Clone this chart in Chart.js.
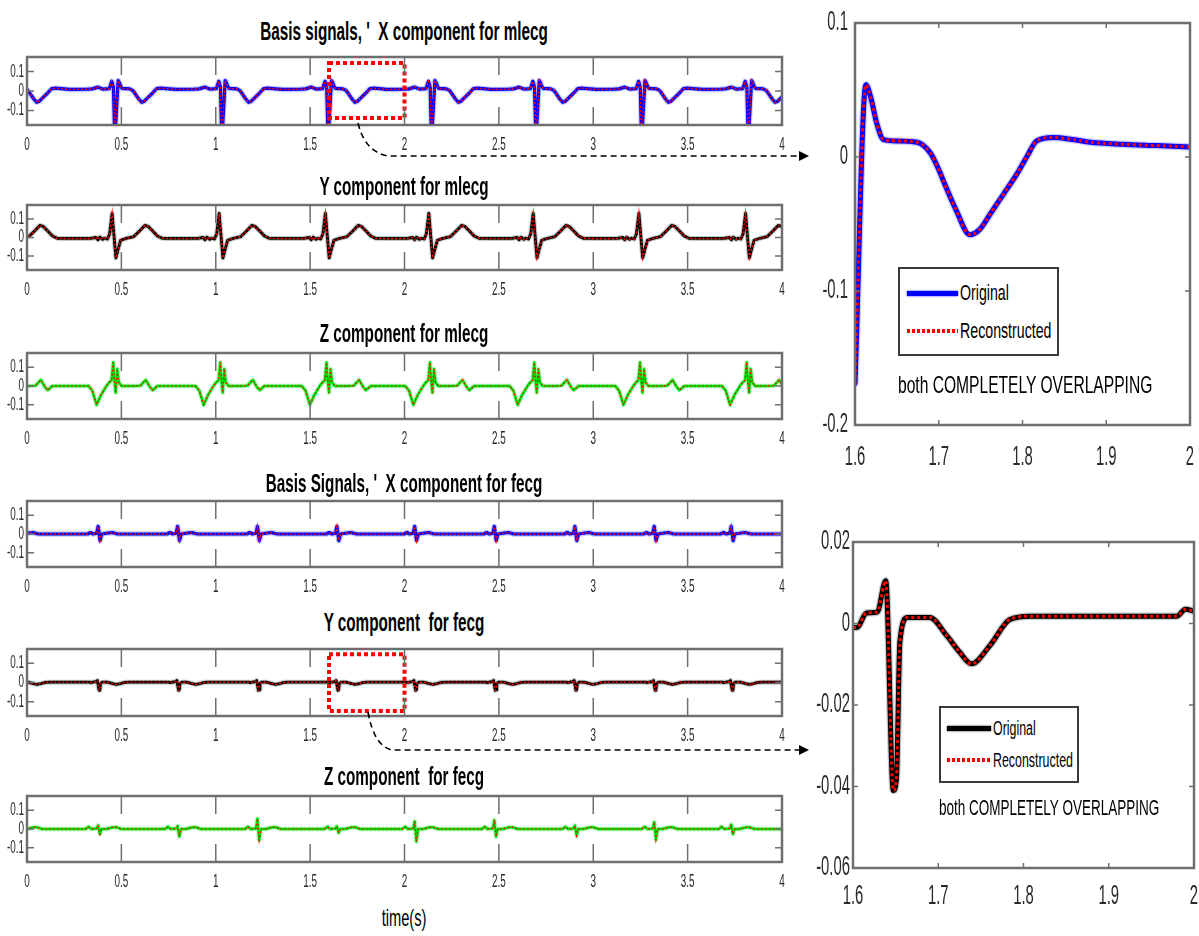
<!DOCTYPE html>
<html>
<head>
<meta charset="utf-8">
<script src="https://cdn.jsdelivr.net/npm/chart.js@4.4.1/dist/chart.umd.min.js"></script>
<style>
  body { margin:0; background:#fff; width:1199px; height:936px; overflow:hidden; position:relative; font-family:"Liberation Sans", Arial, sans-serif; }
  canvas { position:absolute; }
  .txt { position:absolute; white-space:pre; line-height:1; color:#000; transform-origin:50% 50%; }
  .lg { position:absolute; border:2px solid #3a3a3a; background:#fff; box-sizing:border-box; }
  .smp { position:absolute; }
</style>
</head>
<body>
<script>
// ---------- ticks ----------
const xTicksMain  = [0, 0.5, 1, 1.5, 2, 2.5, 3, 3.5, 4];
const xLabelsMain = ['0', '0.5', '1', '1.5', '2', '2.5', '3', '3.5', '4'];
const yTicksMain  = [-0.1, 0, 0.1];
const yLabelsMain = ['-0.1', '0', '0.1'];
const xTicksZoom  = [1.6, 1.7, 1.8, 1.9, 2];
const xLabelsZoom = ['1.6', '1.7', '1.8', '1.9', '2'];
const yTicksZoomM  = [-0.2, -0.1, 0, 0.1];
const yLabelsZoomM = ['-0.2', '-0.1', '0', '0.1'];
const yTicksZoomF  = [-0.06, -0.04, -0.02, 0, 0.02];
const yLabelsZoomF = ['-0.06', '-0.04', '-0.02', '0', '0.02'];

// ---------- beat times (s) ----------
const mBeats = [-0.09, 0.466, 1.033, 1.596, 2.144, 2.697, 3.257, 3.822, 4.38];
const fBeats = [-0.04, 0.381, 0.802, 1.225, 1.646, 2.058, 2.48, 2.907, 3.327, 3.735, 4.15];

// ---------- beat shapes (offset from beat, value) ----------
// X component mlecg
const mxOff = [-0.24, -0.15, -0.12, -0.09, -0.065, -0.03, -0.017, -0.008, -0.001, 0.004, 0.017, 0.023, 0.03, 0.038, 0.06, 0.078, 0.094, 0.103, 0.113, 0.125, 0.141, 0.153, 0.165, 0.181, 0.197, 0.209, 0.221, 0.241, 0.285];
const mxVal = [0.008, 0.009, 0.011, 0.02, 0.01, 0.012, 0.05, 0.02, -0.24, -0.169, 0.054, 0.044, 0.025, 0.013, 0.012, 0.011, 0.003, -0.008, -0.023, -0.04, -0.058, -0.054, -0.043, -0.028, -0.013, 0.0, 0.012, 0.0145, 0.011];
// Y component mlecg
const myOff = [-0.24, -0.13, -0.1, -0.09, -0.08, -0.065, -0.055, -0.04, -0.028, -0.015, -0.006, 0.005, 0.015, 0.03, 0.06, 0.1, 0.13, 0.158, 0.175, 0.2, 0.225, 0.25, 0.285];
const myVal = [-0.005, -0.005, 0.0, -0.012, 0.002, -0.01, -0.004, -0.008, 0.02, 0.13, 0.02, -0.11, -0.07, -0.015, -0.005, 0.005, 0.035, 0.065, 0.06, 0.035, 0.008, -0.004, -0.005];
// Z component mlecg
const mzOff = [-0.24, -0.14, -0.12, -0.097, -0.075, -0.045, -0.03, -0.018, -0.009, -0.003, 0.004, 0.012, 0.02, 0.035, 0.1, 0.135, 0.163, 0.185, 0.2, 0.225, 0.285];
const mzVal = [0.0, 0.0, -0.025, -0.1, -0.05, 0.0, 0.02, 0.03, 0.125, 0.03, -0.035, 0.09, 0.02, 0.0, 0.0, 0.002, 0.032, -0.005, -0.022, 0.0, 0.0];
// X component fecg
const fxOff = [-0.2, -0.06, -0.045, -0.03, -0.012, -0.004, 0.006, 0.015, 0.04, 0.07, 0.1, 0.2];
const fxVal = [0.0, 0.0, 0.008, 0.0, 0.004, 0.04, -0.035, 0.0, 0.004, 0.008, 0.0, 0.0];
// Y component fecg
const fyOff = [-0.2, -0.05, -0.042, -0.03, -0.018, -0.008, 0.001, 0.005, 0.009, 0.018, 0.044, 0.064, 0.079, 0.093, 0.115, 0.138, 0.162, 0.2];
const fyVal = [0.0018, 0.0018, -0.001, 0.0026, 0.0028, 0.0105, -0.041, -0.038, -0.0045, 0.0015, 0.0015, -0.003, -0.007, -0.0099, -0.0053, 0.001, 0.0018, 0.0018];
// Z component fecg (spike heights change from beat to beat)
const fzOff = [-0.2, -0.07, -0.055, -0.04, -0.012, -0.004, 0.005, 0.014, 0.04, 0.07, 0.09, 0.12, 0.2];
const fzVal = [0.0, 0.0, 0.012, 0.0, 0.003, null, null, 0.0, 0.0, 0.008, 0.01, 0.0, 0.0];
const fzUp   = [0.01, 0.018, 0.015, 0.055, 0.014, 0.04, 0.046, 0.018, 0.036, 0.023, 0.01];
const fzDown = [-0.01, -0.027, -0.04, -0.06, -0.02, -0.066, -0.04, -0.036, -0.057, -0.027, -0.01];

// ---------- zoomed windows 1.6 - 2.0 s ----------
const zoomMT = [1.6, 1.613, 1.619, 1.626, 1.634, 1.65, 1.674, 1.69, 1.699, 1.709, 1.721, 1.737, 1.749, 1.761, 1.777, 1.793, 1.805, 1.817, 1.837, 1.86, 1.881, 1.92, 1.96, 2.0];
const zoomMV = [-0.169, 0.054, 0.044, 0.025, 0.013, 0.012, 0.011, 0.003, -0.008, -0.023, -0.040, -0.058, -0.054, -0.043, -0.028, -0.013, 0.0, 0.012, 0.0145, 0.013, 0.011, 0.0095, 0.0085, 0.0075];
const zoomFT = [1.6, 1.6045, 1.616, 1.6285, 1.6384, 1.6473, 1.651, 1.655, 1.664, 1.69, 1.71, 1.725, 1.739, 1.761, 1.784, 1.808, 1.917, 1.98, 1.99, 2.0];
const zoomFV = [-0.001, -0.001, 0.0026, 0.0028, 0.0105, -0.041, -0.038, -0.0045, 0.0015, 0.0015, -0.003, -0.007, -0.0099, -0.0053, 0.001, 0.0018, 0.0018, 0.0018, 0.0035, 0.003];

function beatSeries(beats, offs, vals) {
    let pts = [];
    beats.forEach(function (b, k) {
        offs.forEach(function (o, i) {
            let v = vals[i];
            if (v === null) v = (i === 5) ? fzUp[k] : fzDown[k];
            pts.push({x: b + o, y: v});
        });
    });
    return pts;
}
function pairs(t, v) {
    return t.map(function (x, i) { return {x: x, y: v[i]}; });
}

/*
* Frame, inward ticks, labels and zoom box, MATLAB style
*/
const matlabAxes = {
    id: 'matlabAxes',
    afterDatasetsDraw(chart, args, o) {
        const ctx = chart.ctx, a = chart.chartArea, sx = chart.scales.x, sy = chart.scales.y;
        ctx.save();
        if (o.zoomRect) {
            const r = o.zoomRect;
            const x0 = sx.getPixelForValue(r[0]), x1 = sx.getPixelForValue(r[1]);
            const y0 = sy.getPixelForValue(r[3]), y1 = sy.getPixelForValue(r[2]);
            ctx.strokeStyle = '#ff0000'; ctx.lineWidth = 4; ctx.setLineDash([4, 3]);
            ctx.strokeRect(x0, y0, x1 - x0, y1 - y0);
        }
        ctx.setLineDash([]);
        ctx.strokeStyle = '#6f6f6f'; ctx.lineWidth = 2.5;
        ctx.strokeRect(a.left, a.top, a.right - a.left, a.bottom - a.top);
        ctx.lineWidth = 1.5;
        ctx.beginPath();
        o.xTicks.forEach(function (v) {
            if (v <= sx.min || v >= sx.max) return;
            const px = sx.getPixelForValue(v);
            ctx.moveTo(px, a.top); ctx.lineTo(px, a.top + o.xLen);
            ctx.moveTo(px, a.bottom); ctx.lineTo(px, a.bottom - o.xLen);
        });
        o.yTicks.forEach(function (v) {
            if (v <= sy.min || v >= sy.max) return;
            const py = sy.getPixelForValue(v);
            ctx.moveTo(a.left, py); ctx.lineTo(a.left + o.yLen, py);
            ctx.moveTo(a.right, py); ctx.lineTo(a.right - o.yLen, py);
        });
        ctx.stroke();
        ctx.fillStyle = '#2a2a2a';
        ctx.font = o.fontSize + 'px "Liberation Sans", Arial, sans-serif';
        ctx.textBaseline = 'middle';
        function put(t, x, y, al) {
            ctx.save(); ctx.translate(x, y); ctx.scale(o.sx, 1);
            ctx.textAlign = al; ctx.fillText(t, 0, 0); ctx.restore();
        }
        o.xTicks.forEach(function (v, i) {
            put(o.xLabels[i], sx.getPixelForValue(v), a.bottom + o.xGap, 'center');
        });
        o.yTicks.forEach(function (v, i) {
            put(o.yLabels[i], a.left - o.yGap, sy.getPixelForValue(v), 'right');
        });
        ctx.restore();
    }
};

function traces(data, main, halo, wMain, wHalo, wRed, dash, smooth) {
    const common = {pointRadius: 0, clip: 0, tension: 0, borderJoinStyle: 'round', borderCapStyle: 'round'};
    if (smooth) common.cubicInterpolationMode = 'monotone';
    return [
        Object.assign({data: data.slice(), borderColor: '#ff0000', borderWidth: wRed, borderDash: dash, order: 0}, common, {borderCapStyle: 'butt', borderJoinStyle: 'miter'}),
        Object.assign({data: data.slice(), borderColor: main, borderWidth: wMain, order: 1}, common),
        Object.assign({data: data.slice(), borderColor: halo, borderWidth: wHalo, order: 2}, common)
    ];
}

function createPanel(p) {
    const padT = p.padT, padR = 12;
    const w = (p.R - p.L) + p.yW + padR, h = (p.B - p.T) + padT + p.xH;
    const c = document.createElement('canvas');
    c.width = w; c.height = h;
    c.style.left = (p.L - p.yW) + 'px'; c.style.top = (p.T - padT) + 'px';
    c.style.width = w + 'px'; c.style.height = h + 'px';
    document.body.appendChild(c);
    new Chart(c, {
        type: 'line',
        data: {datasets: p.datasets},
        options: {
            responsive: false,
            animation: false,
            events: [],
            layout: {padding: {top: padT, right: padR, left: 0, bottom: 0}},
            plugins: {
                legend: {display: false},
                tooltip: {enabled: false},
                matlabAxes: {
                    xTicks: p.xTicks, xLabels: p.xLabels, yTicks: p.yTicks, yLabels: p.yLabels,
                    xLen: p.xLen, yLen: p.yLen, fontSize: p.fontSize, sx: p.sx,
                    xGap: p.xGap, yGap: p.yGap, zoomRect: p.zoomRect
                }
            },
            scales: {
                x: {
                    type: 'linear', min: p.xMin, max: p.xMax,
                    grid: {display: false}, border: {display: false}, ticks: {display: false},
                    afterBuildTicks: function (s) { s.ticks = p.xTicks.map(function (v) { return {value: v}; }); },
                    afterFit: function (s) { s.height = p.xH; }
                },
                y: {
                    type: 'linear', min: p.yMin, max: p.yMax,
                    grid: {display: false}, border: {display: false}, ticks: {display: false},
                    afterBuildTicks: function (s) { s.ticks = p.yTicks.map(function (v) { return {value: v}; }); },
                    afterFit: function (s) { s.width = p.yW; }
                }
            }
        },
        plugins: [matlabAxes]
    });
}

// ---------- left column ----------
const leftRows = [
    {T: 57,  B: 125, d: traces(beatSeries(mBeats, mxOff, mxVal), '#0000ff', 'rgba(70,70,255,0.3)', 3.2, 5.5, 1.5, [2, 2]), zoom: [1.6, 2.0, -0.139, 0.144]},
    {T: 205, B: 270, d: traces(beatSeries(mBeats, myOff, myVal), '#000000', 'rgba(0,0,0,0.22)', 2.8, 5, 1.4, [2, 2])},
    {T: 353, B: 419, d: traces(beatSeries(mBeats, mzOff, mzVal), '#00dd00', 'rgba(0,230,0,0.3)', 2.4, 4.5, 1.2, [1.5, 2.5])},
    {T: 501, B: 567, d: traces(beatSeries(fBeats, fxOff, fxVal), '#0000ff', 'rgba(70,70,255,0.3)', 3.2, 5.5, 1.5, [2, 2])},
    {T: 649, B: 716, d: traces(beatSeries(fBeats, fyOff, fyVal), '#000000', 'rgba(0,0,0,0.22)', 2.8, 5, 1.4, [2, 2]), zoom: [1.6, 2.0, -0.149, 0.148]},
    {T: 796, B: 862, d: traces(beatSeries(fBeats, fzOff, fzVal), '#00dd00', 'rgba(0,230,0,0.3)', 2.4, 4.5, 1.2, [1.5, 2.5])}
];
leftRows.forEach(function (r) {
    createPanel({
        L: 27, R: 782, T: r.T, B: r.B, yW: 27, xH: 34, padT: 8,
        xMin: 0, xMax: 4, yMin: -0.175, yMax: 0.175,
        xTicks: xTicksMain, xLabels: xLabelsMain, yTicks: yTicksMain, yLabels: yLabelsMain,
        xLen: 18, yLen: 7, fontSize: 18, sx: 0.55, xGap: 20, yGap: 3,
        zoomRect: r.zoom, datasets: r.d
    });
});

// ---------- right column ----------
createPanel({
    L: 855, R: 1190, T: 23, B: 425, yW: 60, xH: 50, padT: 20,
    xMin: 1.6, xMax: 2, yMin: -0.2, yMax: 0.1,
    xTicks: xTicksZoom, xLabels: xLabelsZoom, yTicks: yTicksZoomM, yLabels: yLabelsZoomM,
    xLen: 5, yLen: 5, fontSize: 27, sx: 0.55, xGap: 33, yGap: 7,
    datasets: traces(pairs(zoomMT, zoomMV), '#0000ff', 'rgba(80,80,255,0.3)', 5, 7.5, 3, [3, 3], true)
});
createPanel({
    L: 853, R: 1194, T: 542, B: 868, yW: 60, xH: 46, padT: 20,
    xMin: 1.6, xMax: 2, yMin: -0.06, yMax: 0.02,
    xTicks: xTicksZoom, xLabels: xLabelsZoom, yTicks: yTicksZoomF, yLabels: yLabelsZoomF,
    xLen: 5, yLen: 5, fontSize: 27, sx: 0.55, xGap: 29, yGap: 3,
    datasets: traces(pairs(zoomFT, zoomFV), '#000000', 'rgba(0,0,0,0.22)', 5, 7.5, 3, [3, 3], true)
});

// ---------- text ----------
function addText(t, cx, cy, size, bold, sx, left) {
    const d = document.createElement('div');
    d.className = 'txt';
    d.textContent = t;
    d.style.fontSize = size + 'px';
    d.style.fontWeight = bold ? 'bold' : 'normal';
    d.style.top = (cy - size / 2) + 'px';
    document.body.appendChild(d);
    if (left !== undefined) {
        d.style.transformOrigin = '0 50%';
        d.style.left = left + 'px';
        d.style.transform = 'scaleX(' + sx + ')';
    } else {
        d.style.left = cx + 'px';
        d.style.transform = 'translateX(-50%) scaleX(' + sx + ')';
    }
    return d;
}
addText("Basis signals, '  X component for mlecg", 404, 31, 25, true, 0.61);
addText("Y component for mlecg", 404, 186, 25, true, 0.61);
addText("Z component for mlecg", 404, 333, 25, true, 0.61);
addText("Basis Signals, '  X component for fecg", 404, 483, 25, true, 0.61);
addText("Y component  for fecg", 404, 622, 25, true, 0.61);
addText("Z component  for fecg", 404, 776, 25, true, 0.61);
addText("time(s)", 404, 918, 24, false, 0.61);

// legends
function addLegend(x, y, w, h, mainColor, s1y, s2y, sx0, sx1, tx, size, sc) {
    const b = document.createElement('div');
    b.className = 'lg';
    b.style.left = x + 'px'; b.style.top = y + 'px'; b.style.width = w + 'px'; b.style.height = h + 'px';
    document.body.appendChild(b);
    const l1 = document.createElement('div');
    l1.className = 'smp';
    l1.style.cssText = 'left:' + sx0 + 'px;top:' + (s1y - 2.5) + 'px;width:' + (sx1 - sx0) + 'px;height:5px;background:' + mainColor + ';box-shadow:0 0 2px ' + mainColor + ';';
    document.body.appendChild(l1);
    const l2 = document.createElement('div');
    l2.className = 'smp';
    l2.style.cssText = 'left:' + sx0 + 'px;top:' + (s2y - 2) + 'px;width:' + (sx1 - sx0) + 'px;height:4px;background:repeating-linear-gradient(to right,#ff0000 0 3px,transparent 3px 5px);';
    document.body.appendChild(l2);
    addText('Original', 0, s1y, size, false, sc, tx);
    addText('Reconstructed', 0, s2y, size, false, sc, tx);
}
addLegend(898, 267, 161, 89, '#0000ff', 293, 331, 907, 958, 960, 22, 0.645);
addLegend(939, 706, 140, 77, '#000000', 728, 760, 947, 991, 993, 20, 0.62);
addText('both COMPLETELY OVERLAPPING', 0, 385, 24, false, 0.65, 898);
addText('both COMPLETELY OVERLAPPING', 0, 808, 22, false, 0.614, 939);
</script>

<svg width="1199" height="936" style="position:absolute;left:0;top:0;pointer-events:none">
  <path d="M358,123 Q365,152 388,156 L799,156" stroke="#000" stroke-width="1.6" stroke-dasharray="6,4" fill="none"/>
  <polygon points="799,151 809,156 799,161" fill="#000"/>
  <path d="M368,712 Q374,746 392,750 L799,750" stroke="#000" stroke-width="1.6" stroke-dasharray="6,4" fill="none"/>
  <polygon points="799,745 809,750 799,755" fill="#000"/>
</svg>
</body>
</html>
